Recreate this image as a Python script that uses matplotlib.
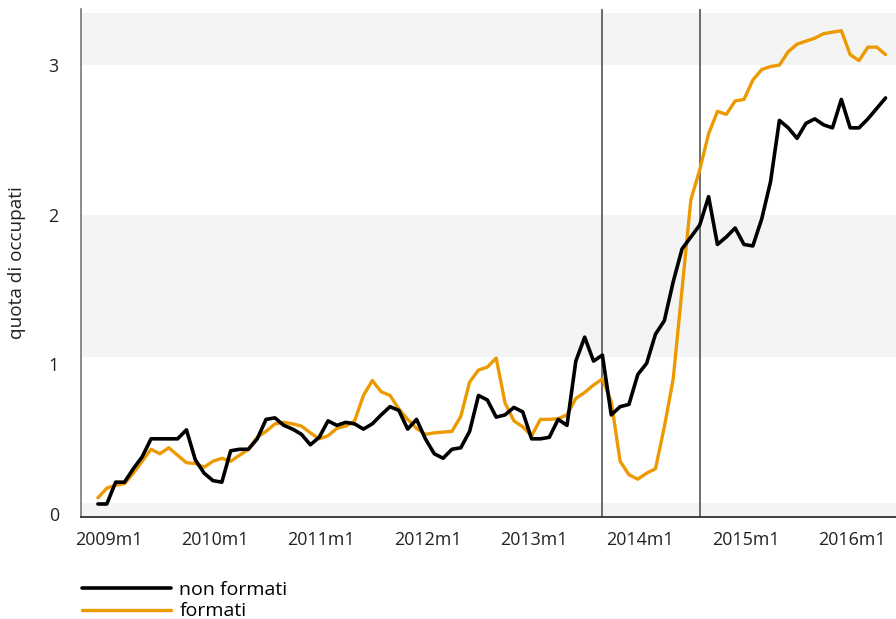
import numpy as np
import matplotlib.pyplot as plt

# monthly series, first month 2008m12
start_month = -1          # months since 2009m1
non_formati = [0.064, 0.064, 0.21, 0.21, 0.30, 0.38, 0.50, 0.50, 0.50, 0.50,
               0.56, 0.36, 0.27, 0.22, 0.21, 0.42, 0.43, 0.43, 0.50, 0.63,
               0.64, 0.59, 0.565, 0.53, 0.46, 0.51, 0.62, 0.59, 0.61, 0.60,
               0.565, 0.60, 0.66, 0.715, 0.69, 0.565, 0.63, 0.50, 0.40, 0.37,
               0.43, 0.44, 0.55, 0.79, 0.76, 0.645, 0.66, 0.71, 0.68, 0.50,
               0.50, 0.51, 0.63, 0.59, 1.02, 1.18, 1.02, 1.06, 0.66, 0.715,
               0.73, 0.93, 1.005, 1.20, 1.29, 1.55, 1.77, 1.85, 1.93, 2.12,
               1.80, 1.85, 1.91, 1.80, 1.79, 1.97, 2.22, 2.63, 2.58, 2.51,
               2.61, 2.64, 2.60, 2.58, 2.77, 2.58, 2.58, 2.64, 2.71, 2.78]
formati = [0.105, 0.17, 0.19, 0.20, 0.27, 0.35, 0.43, 0.40, 0.44, 0.39,
           0.34, 0.335, 0.31, 0.35, 0.37, 0.35, 0.39, 0.43, 0.51, 0.55,
           0.60, 0.61, 0.60, 0.585, 0.54, 0.50, 0.52, 0.57, 0.585, 0.62,
           0.79, 0.89, 0.815, 0.79, 0.70, 0.63, 0.57, 0.53, 0.54, 0.545,
           0.55, 0.65, 0.88, 0.96, 0.98, 1.04, 0.74, 0.62, 0.58, 0.52,
           0.63, 0.63, 0.635, 0.66, 0.77, 0.81, 0.86, 0.90, 0.75, 0.35,
           0.26, 0.23, 0.27, 0.30, 0.58, 0.90, 1.50, 2.10, 2.30, 2.54,
           2.69, 2.67, 2.76, 2.77, 2.90, 2.97, 2.99, 3.00, 3.09, 3.14,
           3.16, 3.18, 3.21, 3.22, 3.23, 3.07, 3.03, 3.12, 3.12, 3.07]

years = [2009, 2010, 2011, 2012, 2013, 2014, 2015, 2016]
tick_labels = [f"{y}m1" for y in years]
event_months = [56, 67]   # 2013m9, 2014m8
y_ticks = [0, 1, 2, 3]
bands = [(-0.03, 0.07), (1.05, 2.0), (3.0, 3.345)]

plt.rcParams['font.family'] = ['Open Sans', 'DejaVu Sans']

shift = -0.25
x = start_month + np.arange(len(non_formati)) + shift

fig = plt.figure(figsize=(8.96, 6.19), dpi=100)
ax = fig.add_axes([81/896, 102/619, 1 - 81/896, 508/619])

for lo, hi in bands:
    ax.axhspan(lo, hi, color='#f4f4f4', lw=0, zorder=0)

for m in event_months:
    ax.axvline(m + shift, color='#555555', lw=1.2, zorder=1)

l1, = ax.plot(x, non_formati, color='black', lw=2.6, solid_joinstyle='round',
              solid_capstyle='round', zorder=3)
l2, = ax.plot(x, formati, color='#ec9a00', lw=2.4, solid_joinstyle='round',
              solid_capstyle='round', zorder=2)

ax.set_xlim((81 - 109) / 8.85, (896 - 109) / 8.85)
ax.set_ylim(-0.023, 3.375)
ax.set_xticks([12 * (y - 2009) for y in years])
ax.set_xticklabels(tick_labels)
ax.set_yticks(y_ticks)
ax.tick_params(axis='both', length=0, labelsize=12.9, colors='#222222')
ax.tick_params(axis='x', pad=10)
ax.tick_params(axis='y', pad=16)
ax.set_ylabel('quota di occupati', fontsize=13.7, color='#222222', labelpad=16)

for s in ['top', 'right']:
    ax.spines[s].set_visible(False)
ax.spines['left'].set_color('#777777')
ax.spines['left'].set_linewidth(1.2)
ax.spines['bottom'].set_color('#222222')
ax.spines['bottom'].set_linewidth(1.2)

fig.legend([l1, l2], ['non formati', 'formati'], loc='upper left',
           bbox_to_anchor=(82/896, 1 - 581/619), frameon=False,
           handlelength=4.6, handletextpad=0.4, labelspacing=0.17,
           borderpad=0, borderaxespad=0, fontsize=14)

fig.savefig('out.png', dpi=100)
